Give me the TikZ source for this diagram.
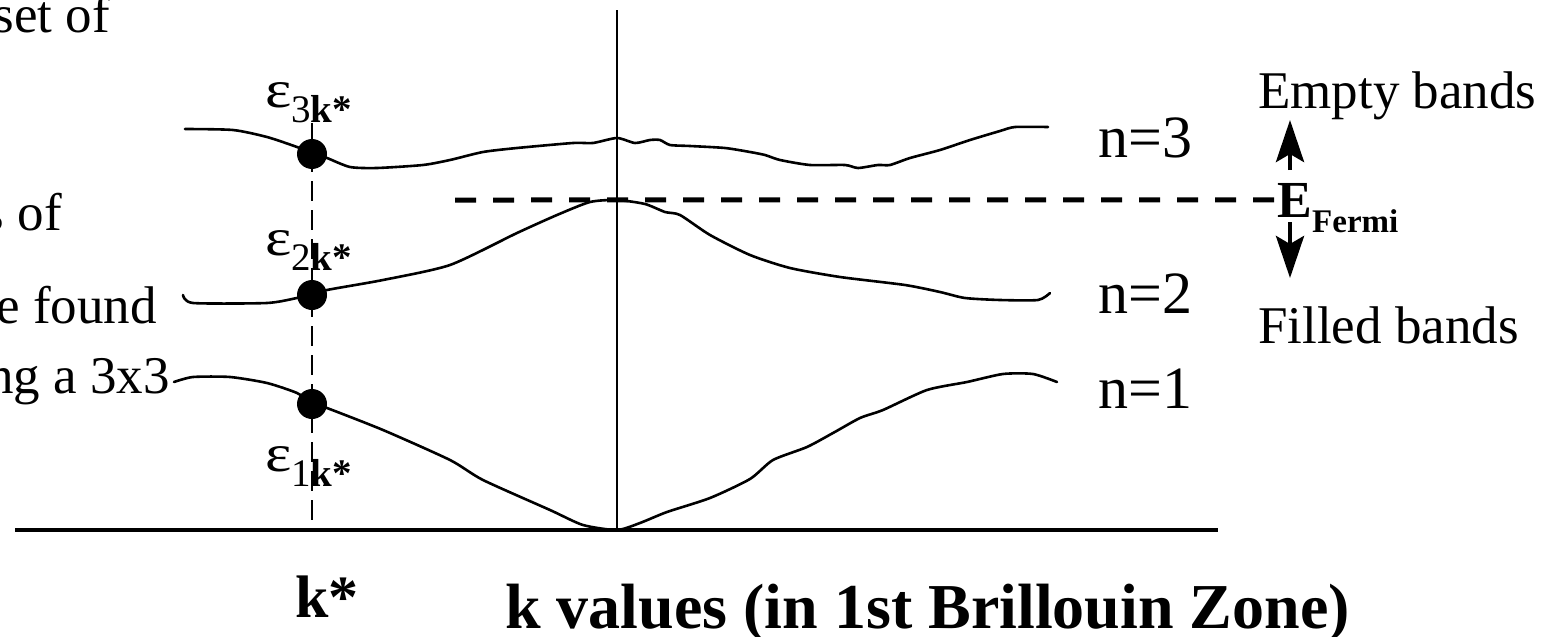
\documentclass[tikz,border=0pt]{standalone}
\usepackage{fontspec}
\setmainfont{Liberation Serif}
\usetikzlibrary{arrows.meta}
\tikzset{
  band/.style={line width=2.6pt, line join=round, line cap=round},
  txt/.style={inner sep=0pt, anchor=base west, font=\fontsize{53}{60}\selectfont},
  txtr/.style={inner sep=0pt, anchor=base east, font=\fontsize{53}{60}\selectfont},
  nlbl/.style={inner sep=0pt, anchor=base west, font=\fontsize{60}{66}\selectfont},
  dot/.style={circle, fill=black, inner sep=0pt, minimum size=30pt},
  kdash/.style={line width=2pt, dash pattern=on 20pt off 9pt},
  fdash/.style={line width=5pt, dash pattern=on 21pt off 17pt},
  bigarrow/.style={line width=4.5pt, -{Stealth[length=42pt,width=28pt,inset=8pt]}},
}
\newcommand{\epslbl}[1]{{\fontsize{53}{60}\selectfont\scalebox{1.18}[1]{ε}}\raisebox{-15pt}{\fontsize{39}{44}\selectfont #1\textbf{k*}}}
\begin{document}
\begin{tikzpicture}[x=1pt,y=-1pt]
\useasboundingbox (0,0) rectangle (1551,637);
\begin{scope}
\clip (0,0) rectangle (1551,637);
% left cut-off text
\node[txtr] (t1) at (110,32) {set of};
\node[txtr] (t2) at (62,230) {s of};
\node[txtr] (t3) at (157,323) {e found};
\node[txtr] (t4) at (170,393) {ng a 3x3};

% axes
\coordinate (axL) at (15,530);
\coordinate (axR) at (1218,530);
\coordinate (vT) at (617,10);
\coordinate (vB) at (617,530);
\draw[line width=3.5pt] (axL) -- (axR);
\draw[line width=2pt] (vT) -- (vB);

% k* dashed line
\coordinate (kT) at (312,123);
\coordinate (kB) at (312,530);
\draw[kdash] (kT) -- (kB);

% Fermi level
\node[inner sep=0pt, anchor=base west, font=\fontsize{52}{60}\selectfont\bfseries] (ef) at (1277,217) {E};
\node[inner sep=0pt, anchor=base west, font=\fontsize{33}{36}\selectfont\bfseries] (fermi) at (1312,232) {Fermi};
\coordinate (fS) at (455,200);
\draw[fdash] (fS) -- (ef.west);

% bands
\draw[band] plot[smooth, tension=0.4] coordinates {(185,129) (233,130) (267,137) (297,147) (312,153) (327,158) (350,167) (377,168) (423,165) (450,160) (483,152) (517,148) (573,143) (593,143) (617,138) (635,143) (650,140) (660,140) (670,145) (690,146) (725,148) (750,152) (765,155) (780,160) (810,165) (845,165) (858,168) (878,165) (890,165) (910,158) (940,150) (970,140) (1000,131) (1015,127) (1048,127)};
\draw[band] plot[smooth, tension=0.4] coordinates {(183,295) (193,303) (267,303) (297,298) (312,295) (327,290) (383,280) (450,265) (517,233) (557,215) (590,202) (617,200) (645,204) (665,212) (680,215) (710,235) (750,255) (790,268) (840,277) (905,285) (940,292) (965,298) (1000,300) (1038,300) (1050,293)};
\draw[band] plot[smooth, tension=0.4] coordinates {(174,382) (193,377) (230,377) (267,383) (297,393) (312,403) (327,408) (383,430) (450,460) (483,480) (550,510) (583,525) (617,530) (640,523) (667,512) (710,498) (750,479) (773,460) (807,447) (833,433) (860,418) (883,410) (927,390) (967,382) (1003,374) (1033,374) (1057,382)};

% dots
\node[dot] (d3) at (312,154) {};
\node[dot] (d2) at (312,295) {};
\node[dot] (d1) at (312,404) {};

% epsilon labels
\node[txt] (e3) at (265,107) {\epslbl{3}};
\node[txt] (e2) at (265,255) {\epslbl{2}};
\node[txt] (e1) at (265,471) {\epslbl{1}};

% band indices
\node[nlbl] (n3) at (1098,157) {n=3};
\node[nlbl] (n2) at (1098,313) {n=2};
\node[nlbl] (n1) at (1098,408) {n=1};

% empty / filled
\node[txt] (empty) at (1258,108) {Empty bands};
\node[txt] (filled) at (1258,343) {Filled bands};
\coordinate (uS) at (1290,170);
\coordinate (uT) at (1290,120);
\coordinate (dS) at (1290,222);
\coordinate (dT) at (1290,278);
\draw[bigarrow] (uS) -- (uT);
\draw[bigarrow] (dS) -- (dT);

% bottom labels
\node[inner sep=0pt, anchor=base west, font=\fontsize{60}{66}\selectfont\bfseries] (kstar) at (295,617) {k*};
\node[inner sep=0pt, anchor=base west, font=\fontsize{64}{70}\selectfont\bfseries] (kval) at (505,628) {k values (in 1st Brillouin Zone)};
\end{scope}
\end{tikzpicture}
\end{document}
